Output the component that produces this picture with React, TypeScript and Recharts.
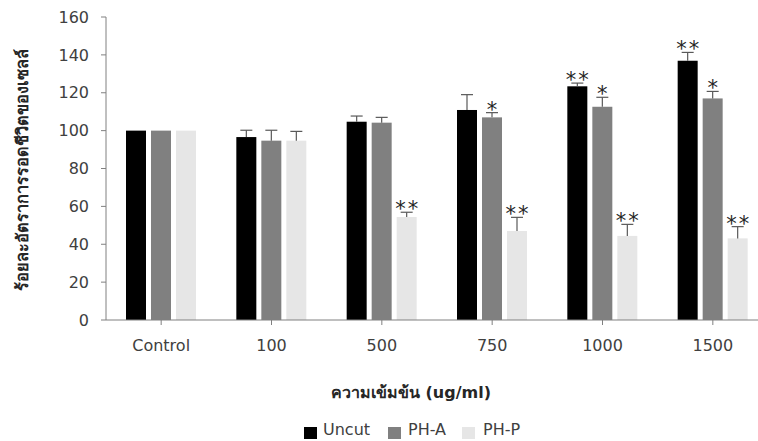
import { BarChart, Bar, XAxis, YAxis, Label } from 'recharts'

const categories = ['Control', '100', '500', '750', '1000', '1500']
const uncut = [100, 96.6, 104.7, 110.9, 123.4, 136.9]
const uncutErr = [0, 3.6, 3.0, 8.1, 1.7, 4.4]
const uncutStars = ['', '', '', '', '**', '**']
const phA = [100, 94.7, 104.2, 107, 112.6, 117]
const phAErr = [0, 5.5, 2.8, 2.5, 5.0, 3.7]
const phAStars = ['', '', '', '*', '*', '*']
const phP = [100, 94.7, 54.4, 47, 44.4, 43.1]
const phPErr = [0, 4.9, 2.5, 7.2, 6.1, 6.2]
const phPStars = ['', '', '**', '**', '**', '**']
const yTicks = [0, 20, 40, 60, 80, 100, 120, 140, 160]

const rows = categories.map((name, i) => ({
  name,
  uncut: uncut[i], uncutErr: uncutErr[i], uncutStar: uncutStars[i],
  phA: phA[i], phAErr: phAErr[i], phAStar: phAStars[i],
  phP: phP[i], phPErr: phPErr[i], phPStar: phPStars[i],
}))

const font = '"DejaVu Sans", sans-serif'

// bar + one-sided error bar + significance stars
function barWithError(fill: string, key: string) {
  return (props: any) => {
    const { x, y, width, height, payload } = props
    const v = payload[key]
    const err = payload[key + 'Err']
    const star = payload[key + 'Star']
    const k = v ? height / v : 0
    const cx = x + width / 2
    const top = y - err * k
    return (
      <g>
        <rect x={x} y={y} width={width} height={height} fill={fill} />
        {err > 0 && (
          <g stroke="#595959" strokeWidth={1.2}>
            <line x1={cx} x2={cx} y1={y} y2={top} />
            <line x1={cx - 6} x2={cx + 6} y1={top} y2={top} />
          </g>
        )}
        {star && (
          <text x={cx + (star.length > 1 ? 1 : 0)} y={top + 4} textAnchor="middle" fontSize={21}
            fontFamily={font} fill="#262626" letterSpacing={star.length > 1 ? 2 : 0}>
            {star}
          </text>
        )}
      </g>
    )
  }
}

const legendItems = [
  { name: 'Uncut', color: '#000000', box: 304, text: 323 },
  { name: 'PH-A', color: '#808080', box: 388, text: 408 },
  { name: 'PH-P', color: '#e6e6e6', box: 462, text: 483 },
]

export default function App() {
  return (
    <div style={{ position: 'fixed', left: 0, top: 0, width: 758, height: 441, overflow: 'hidden', background: '#fff' }}>
      <BarChart width={775} height={441} data={rows} barGap={5}
        margin={{ top: 17, right: 7, left: 0, bottom: 0 }}>
        <XAxis dataKey="name" height={121} tickSize={5} tickMargin={15}
          axisLine={{ stroke: '#808080' }} tickLine={{ stroke: '#808080' }}
          tick={{ fill: '#404040', fontSize: 16, fontFamily: font }}>
          <Label content={() => (
            <text x={411} y={398} textAnchor="middle" fontSize={16} fontWeight="bold"
              fontFamily={font} fill="#262626">ความเข้มข้น (ug/ml)</text>
          )} />
        </XAxis>
        <YAxis width={106} domain={[0, 160]} ticks={yTicks} interval={0} tickSize={5} tickMargin={12}
          axisLine={{ stroke: '#808080' }} tickLine={{ stroke: '#808080' }}
          tick={{ fill: '#404040', fontSize: 16, fontFamily: font }}>
          <Label content={() => (
            <text x={22} y={170} transform="rotate(-90 22 170)" textAnchor="middle" dominantBaseline="central"
              fontSize={16.3} fontWeight="bold" fontFamily={font} fill="#262626">ร้อยละอัตราการรอดชีวิตของเซลล์</text>
          )} />
        </YAxis>
        <Bar dataKey="uncut" name="Uncut" fill="#000000" barSize={20} isAnimationActive={false}
          shape={barWithError('#000000', 'uncut')} />
        <Bar dataKey="phA" name="PH-A" fill="#808080" barSize={20} isAnimationActive={false}
          shape={barWithError('#808080', 'phA')} />
        <Bar dataKey="phP" name="PH-P" fill="#e6e6e6" barSize={20} isAnimationActive={false}
          shape={barWithError('#e6e6e6', 'phP')} />
      </BarChart>
      {legendItems.map(it => (
        <div key={it.name}>
          <span style={{ position: 'absolute', left: it.box, top: 427, width: 13, height: 12, background: it.color }} />
          <span style={{ position: 'absolute', left: it.text, top: 422, lineHeight: '16px', whiteSpace: 'nowrap',
            fontFamily: font, fontSize: 16, color: '#404040' }}>{it.name}</span>
        </div>
      ))}
    </div>
  )
}
